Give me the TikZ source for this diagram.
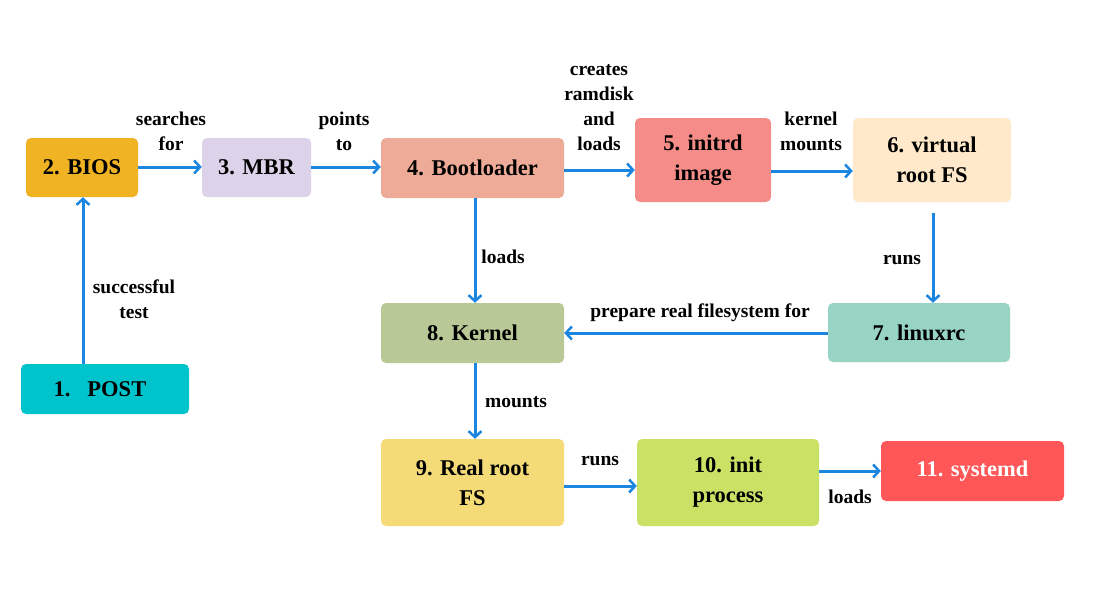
\documentclass[tikz,border=0pt]{standalone}
\usepackage{fontspec}
\setmainfont{Liberation Serif}
\usetikzlibrary{arrows.meta}
\definecolor{cPost}{HTML}{00C4CC}
\definecolor{cBios}{HTML}{F0B323}
\definecolor{cMbr}{HTML}{DCD3EA}
\definecolor{cBoot}{HTML}{EEAC98}
\definecolor{cInitrd}{HTML}{F58C87}
\definecolor{cVirt}{HTML}{FFE9CA}
\definecolor{cLinuxrc}{HTML}{97D4C4}
\definecolor{cKernel}{HTML}{B8C997}
\definecolor{cReal}{HTML}{F4DB77}
\definecolor{cInit}{HTML}{C9E265}
\definecolor{cSysd}{HTML}{FF5757}
\definecolor{cArrow}{HTML}{1B86E0}
\tikzset{
  box/.style={rounded corners=5pt, inner sep=0pt, align=center,
    font=\fontsize{22.5}{30}\selectfont\bfseries, text=black},
  lbl/.style={align=center, inner sep=0pt, font=\fontsize{19.5}{25}\selectfont\bfseries},
  conn/.style={draw=cArrow, line width=3pt, -{Straight Barb[length=6pt,width=13pt,line width=2.5pt]}},
}
\begin{document}
\begin{tikzpicture}[x=1pt,y=-1pt]
\useasboundingbox (0,0) rectangle (1100,600);
\fill[white] (0,0) rectangle (1100,600);
% boxes
\node[box, fill=cPost, minimum width=168pt, minimum height=50pt] (post) at (105,389) {\hspace*{-10pt}1.\ \ \ POST};
\node[box, fill=cBios, minimum width=112pt, minimum height=59pt] (bios) at (82,167.5) {2. BIOS};
\node[box, fill=cMbr, minimum width=109pt, minimum height=59pt] (mbr) at (256.5,167.5) {3. MBR};
\node[box, fill=cBoot, minimum width=183pt, minimum height=60pt] (boot) at (472.5,168) {4. Bootloader};
\node[box, fill=cInitrd, minimum width=136pt, minimum height=84pt] (initrd) at (703,160) {5. initrd\\image};
\node[box, fill=cVirt, minimum width=158pt, minimum height=84pt] (virt) at (932,160) {6. virtual\\root FS};
\node[box, fill=cLinuxrc, minimum width=182pt, minimum height=59pt] (linuxrc) at (919,332.5) {7. linuxrc};
\node[box, fill=cKernel, minimum width=183pt, minimum height=60pt] (kernel) at (472.5,333) {8. Kernel};
\node[box, fill=cReal, minimum width=183pt, minimum height=87pt] (real) at (472.5,482.5) {9. Real root\\FS};
\node[box, fill=cInit, minimum width=182pt, minimum height=87pt] (init) at (728,482.5) {10. init\\process};
\node[box, fill=cSysd, minimum width=183pt, minimum height=60pt, text=white] (sysd) at (972.5,471) {11. systemd};
% helper coordinates
\coordinate (vstart) at (933,213);
% connectors
\draw[conn] (post.north -| 83,0) -- (bios.south -| 83,0);
\draw[conn] (bios.east |- 0,167) -- (mbr.west |- 0,167);
\draw[conn] (mbr.east |- 0,167) -- (boot.west |- 0,167);
\draw[conn] (boot.east |- 0,170) -- (initrd.west |- 0,170);
\draw[conn] (initrd.east |- 0,171) -- (virt.west |- 0,171);
\draw[conn] (vstart) -- (linuxrc.north -| vstart);
\draw[conn] (boot.south -| 475,0) -- (kernel.north -| 475,0);
\draw[conn] (linuxrc.west |- 0,333) -- (kernel.east |- 0,333);
\draw[conn] (kernel.south -| 475,0) -- (real.north -| 475,0);
\draw[conn] (real.east |- 0,486) -- (init.west |- 0,486);
\draw[conn] (init.east |- 0,471) -- (sysd.west |- 0,471);
% labels
\node[lbl] (l1) at (134,299.5) {successful\\test};
\node[lbl] (l2) at (171,131.5) {searches\\for};
\node[lbl] (l3) at (344,131.5) {points\\to};
\node[lbl] (l4) at (599,107.5) {creates\\ramdisk\\and\\loads};
\node[lbl] (l5) at (811,131.5) {kernel\\mounts};
\node[lbl] (l6) at (503,257) {loads};
\node[lbl] (l7) at (902,260) {runs};
\node[lbl] (l8) at (700,313) {prepare real filesystem for};
\node[lbl] (l9) at (516,402) {mounts};
\node[lbl] (l10) at (600,461) {runs};
\node[lbl] (l11) at (850,497) {loads};
\end{tikzpicture}
\end{document}
